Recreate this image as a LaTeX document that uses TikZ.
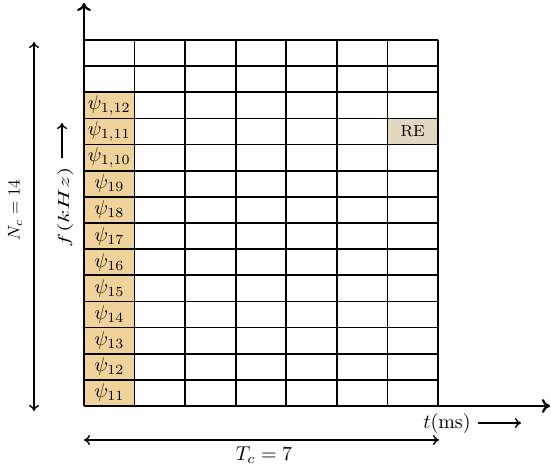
\documentclass[tikz,border=0pt]{standalone}
\usetikzlibrary{arrows.meta}
\definecolor{psifill}{RGB}{240,210,155}
\definecolor{refill}{RGB}{226,216,194}
\begin{document}
\begin{tikzpicture}[x=0.5pt,y=-0.5pt,
  cell/.style={minimum width=25.29pt, minimum height=13.07pt, inner sep=0pt, anchor=center},
  psicell/.style={cell, fill=psifill},
  recell/.style={cell, fill=refill, font=\footnotesize},
  gridline/.style={line width=0.9pt},
  axis/.style={line width=1.1pt, -{To[length=4pt,width=7pt]}},
  dim/.style={line width=0.7pt, {To[length=3pt,width=5pt]}-{To[length=3pt,width=5pt]}},
  single/.style={line width=0.7pt, -{To[length=3pt,width=5pt]}},
  lbl/.style={inner sep=0pt}]
\useasboundingbox (0,0) rectangle (551,472);
% coloured cells
\foreach \r/\t in {2/{1,12},3/{1,11},4/{1,10},5/{19},6/{18},7/{17},8/{16},9/{15},10/{14},11/{13},12/{12},13/{11}}
  \node[psicell] (psi\r) at ({84+50.571*0.5},{40+26.143*(\r+0.5)}) {$\psi_{\t}$};
\node[recell] (re) at ({84+50.571*6.5},{40+26.143*3.5}) {RE};
% grid
\foreach \i in {0,...,7}
  \draw[gridline] ({84+50.571*\i},40) -- ({84+50.571*\i},406);
\foreach \j in {0,...,14}
  \draw[gridline] (84,{40+26.143*\j}) -- (438,{40+26.143*\j});
% axes
\coordinate (O) at (84,406);
\coordinate (ytop) at (84,3);
\coordinate (xend) at (550,406);
\draw[axis] (O) -- (ytop);
\draw[axis] (O) -- (xend);
% dimension arrows
\coordinate (ntop) at (34,42);
\coordinate (nbot) at (34,411);
\draw[dim] (nbot) -- (ntop);
\coordinate (tl) at (84,440);
\coordinate (tr) at (439,440);
\draw[dim] (tl) -- (tr);
\coordinate (fa) at (62,158);
\coordinate (fb) at (62,123);
\draw[single] (fa) -- (fb);
\coordinate (ta) at (478,423);
\coordinate (tb) at (521,423);
\draw[single] (ta) -- (tb);
% labels
\node[lbl,rotate=90] (nclabel) at (15,210) {\scalebox{0.85}{$N_c=14$}};
\node[lbl,rotate=90] (flabel) at (65,207) {\scalebox{1.2}[0.8]{$f(kHz)$}};
\node[lbl] (tlabel) at (447,423) {$t(\mathrm{ms})$};
\node[lbl] (tclabel) at (264,455) {$T_c=7$};
\end{tikzpicture}
\end{document}
